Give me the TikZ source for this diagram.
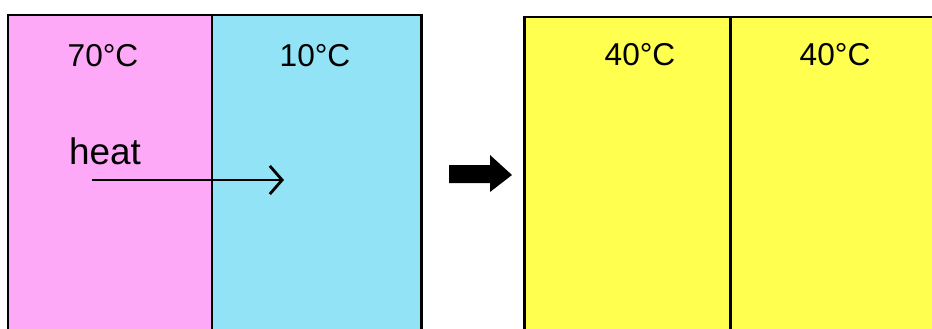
\documentclass[tikz,border=0pt]{standalone}
\usepackage{fontspec}
\setmainfont{Liberation Sans}
\usetikzlibrary{arrows.meta}
\definecolor{warm}{HTML}{FDA9F7}
\definecolor{cold}{HTML}{93E3F7}
\definecolor{mixed}{HTML}{FFFF4F}
\tikzset{
  wall/.style={line width=1.7pt,black},
  temp/.style={font=\fontsize{18}{20}\selectfont,inner sep=0pt}
}
\begin{document}
\begin{tikzpicture}[x=0.02cm,y=-0.02cm]
			\clip (0,0) rectangle (932,328);
			\fill[white] (0,0) rectangle (932,328);
			% before
			\fill[warm] (8,15) rectangle (212,340);
			\fill[cold] (212,15) rectangle (421,340);
			\draw[wall] (8,340) -- (8,15) -- (421,15) -- (421,340);
			\draw[wall] (212,15) -- (212,340);
			% after
			\fill[mixed] (524,17) rectangle (940,340);
			\draw[wall] (524,340) -- (524,17) -- (940,17);
			\draw[wall] (730,17) -- (730,340);
			% temperatures
			\node[temp] (t70) at (103,56) {70°C};
			\node[temp] (t10) at (315,56) {10°C};
			\node[temp] (t40a) at (640,55) {40°C};
			\node[temp] (t40b) at (835,55) {40°C};
			% heat flow
			\node[temp,font=\fontsize{21}{24}\selectfont,anchor=base] (heat) at (105,164) {heat};
			\coordinate (hs) at (92,180);
			\coordinate (he) at (284,180);
			\draw[line width=1.6pt,-{Straight Barb[length=7pt,width=16pt,line width=1.6pt]}] (hs) -- (he);
			% big arrow
			\fill (449,165) -- (490,165) -- (490,155) -- (512,175) -- (490,192) -- (490,183) -- (449,183) -- cycle;
		\end{tikzpicture}
\end{document}
